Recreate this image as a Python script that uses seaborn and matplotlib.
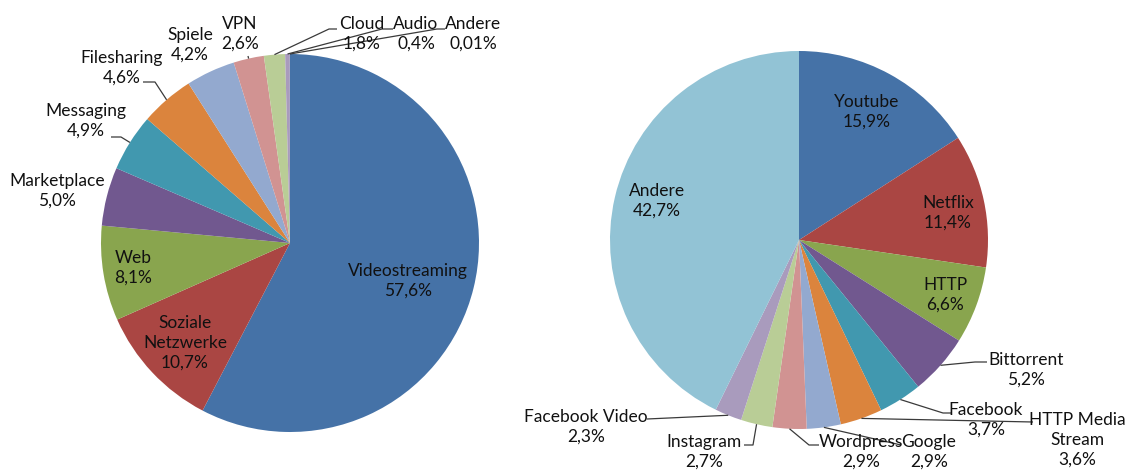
import numpy as np
import matplotlib
matplotlib.use("Agg")
import matplotlib.pyplot as plt
import seaborn as sns

# ---------------- data ----------------
left_labels = ["Videostreaming", "Soziale\nNetzwerke", "Web", "Marketplace", "Messaging",
               "Filesharing", "Spiele", "VPN", "Cloud", "Audio", "Andere"]
left_values = [57.6, 10.7, 8.1, 5.0, 4.9, 4.6, 4.2, 2.6, 1.8, 0.4, 0.01]

right_labels = ["Youtube", "Netflix", "HTTP", "Bittorrent", "Facebook", "HTTP Media\nStream",
                "Google", "Wordpress", "Instagram", "Facebook Video", "Andere"]
right_values = [15.9, 11.4, 6.6, 5.2, 3.7, 3.6, 2.9, 2.9, 2.7, 2.3, 42.7]

palette_hex = ["#4572A7", "#AA4643", "#89A54E", "#71588F", "#4198AF", "#DB843D",
               "#93A9CF", "#D19392", "#B9CD96", "#A99BBD", "#92C3D5"]

# ---------------- layout (pixel coords, y from top) ----------------
W, H = 1126, 470
left_center, right_center, radius = (290, 243), (799, 240), 189

# text centre, and optional leader path points (text end first, then elbow)
left_layout = {
    "Videostreaming": dict(pos=(408, 281)),
    "Soziale\nNetzwerke": dict(pos=(185, 343)),
    "Web": dict(pos=(133, 268)),
    "Marketplace": dict(pos=(57, 191)),
    "Messaging": dict(pos=(86, 121), lead=[(111, 137), (121, 137)]),
    "Filesharing": dict(pos=(122, 68), lead=[(143, 82), (155, 82)]),
    "Spiele": dict(pos=(190, 45)),
    "VPN": dict(pos=(240, 34), lead=[(248, 56)]),
    "Cloud": dict(pos=(362, 34), lead=[(337, 29), (329, 29)]),
    "Audio": dict(pos=(416, 34), lead=[(393, 29), (382, 29)]),
    "Andere": dict(pos=(473, 34), lead=[(445, 29), (437, 29)]),
}
right_layout = {
    "Youtube": dict(pos=(867, 112)),
    "Netflix": dict(pos=(948, 213)),
    "HTTP": dict(pos=(945, 295)),
    "Andere": dict(pos=(657, 201)),
    "Bittorrent": dict(pos=(1026, 370), lead=[(987, 362), (975, 362)]),
    "Facebook": dict(pos=(986, 420), lead=[(951, 413), (943, 413)]),
    "HTTP Media\nStream": dict(pos=(1077, 440), lead=[(1033, 422)]),
    "Google": dict(pos=(929, 452), lead=[(901, 445)]),
    "Wordpress": dict(pos=(861, 452), lead=[(819, 445), (809, 445)]),
    "Instagram": dict(pos=(704, 452), lead=[(744, 445), (753, 445)]),
    "Facebook Video": dict(pos=(586, 427), lead=[(647, 419)]),
}

sns.set_theme(style="white")
plt.rcParams["font.family"] = ["Lato", "DejaVu Sans"]
colors = sns.color_palette(palette_hex)

fig = plt.figure(figsize=(W / 100, H / 100), dpi=100)
ax = fig.add_axes([0, 0, 1, 1])


def P(x, y):
    return (x, H - y)


def fmt(v):
    s = f"{v:.2f}" if v < 0.1 else f"{v:.1f}"
    return s.replace(".", ",") + "%"


def draw_pie(values, labels, center, layout):
    wedges, _ = ax.pie(values, colors=colors, startangle=90, counterclock=False,
                       center=P(*center), radius=radius,
                       wedgeprops=dict(linewidth=0, antialiased=True))
    for w, lab, v in zip(wedges, labels, values):
        spec = layout[lab]
        tx, ty = spec["pos"]
        ax.text(*P(tx, ty), f"{lab}\n{fmt(v)}", ha="center", va="center",
                fontsize=12.5, color="#111111", linespacing=1.28)
        if "lead" in spec:
            mid = np.deg2rad((w.theta1 + w.theta2) / 2)
            cx, cy = w.center
            sx, sy = cx + w.r * np.cos(mid), cy + w.r * np.sin(mid)
            pts = [P(*p) for p in spec["lead"]] + [(sx, sy)]
            xs, ys = zip(*pts)
            ax.plot(xs, ys, color="#3a3a3a", lw=0.9, solid_capstyle="butt")


draw_pie(left_values, left_labels, left_center, left_layout)
draw_pie(right_values, right_labels, right_center, right_layout)

ax.set_xlim(0, W)
ax.set_ylim(0, H)
ax.set_aspect("equal")
ax.axis("off")
fig.savefig("out.png", dpi=100, facecolor="white")
